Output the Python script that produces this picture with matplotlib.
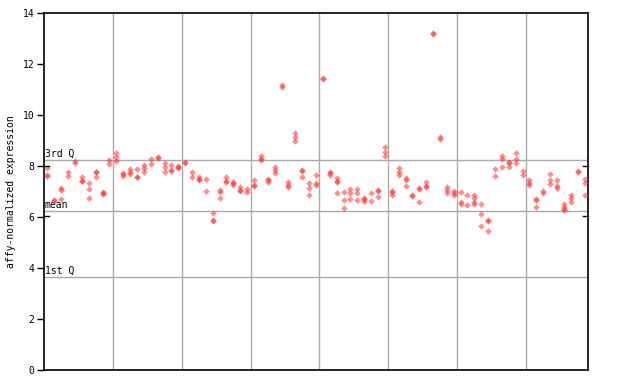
import matplotlib
matplotlib.use("Agg")
import matplotlib.pyplot as plt

# replicate values per sample column (79 columns, 8 groups of ~10)
replicates = [
    [7.93, 7.65, 7.62], [6.68, 6.63], [7.15, 7.06, 6.69], [7.78, 7.61],
    [8.20, 8.13], [7.58, 7.42, 7.40], [7.32, 7.08, 6.73], [7.78, 7.75, 7.55],
    [6.99, 6.95, 6.89], [8.24, 8.07], [8.50, 8.37, 8.20], [7.71, 7.68, 7.61],
    [7.88, 7.75, 7.69], [7.87, 7.58, 7.55], [8.04, 7.91, 7.78], [8.26, 8.08],
    [8.35, 8.31], [8.13, 7.97, 7.78], [8.05, 7.86, 7.82], [8.00, 7.95, 7.91],
    [8.17, 8.10], [7.78, 7.58], [7.58, 7.49, 7.46], [7.48, 7.03],
    [6.14, 5.88, 5.84], [7.06, 6.97, 6.73], [7.58, 7.41, 7.37], [7.37, 7.33, 7.25],
    [7.16, 7.05, 7.01], [7.08, 6.99], [7.45, 7.25, 7.21], [8.39, 8.28, 8.24],
    [7.50, 7.46, 7.39], [7.97, 7.86, 7.74], [11.18, 11.08], [7.39, 7.25, 7.16],
    [9.28, 9.15, 8.99], [7.86, 7.82, 7.55], [7.32, 7.12, 6.86], [7.65, 7.32, 7.25],
    [11.46, 11.42], [7.76, 7.72, 7.65], [7.51, 7.41, 7.37, 6.96], [6.97, 6.67, 6.34],
    [7.08, 6.95, 6.69], [7.08, 6.93, 6.67], [6.75, 6.71, 6.63], [6.93, 6.63],
    [7.05, 7.01, 6.80], [8.76, 8.56, 8.39], [7.01, 6.97, 6.86], [7.91, 7.78, 7.65],
    [7.51, 7.45, 7.22], [6.88, 6.84], [7.14, 7.10, 6.60], [7.39, 7.21, 7.17],
    [13.20, 13.16], [9.12, 9.04], [7.19, 7.06, 6.95], [7.02, 6.93, 6.86],
    [6.97, 6.60, 6.51], [6.86, 6.47], [6.86, 6.73, 6.60, 6.51], [6.51, 6.12, 5.65],
    [5.88, 5.84, 5.45], [7.87, 7.61], [8.39, 8.26, 7.95], [8.15, 8.11, 7.95],
    [8.50, 8.26, 8.10], [7.82, 7.65], [7.45, 7.35, 7.25], [6.69, 6.65, 6.41],
    [7.03, 6.93], [7.69, 7.45, 7.29], [7.45, 7.22, 7.12], [6.51, 6.41, 6.33, 6.29],
    [6.86, 6.73, 6.60], [7.80, 7.76], [7.48, 7.35, 6.86],
]
group_boundaries = [10, 20, 30, 40, 50, 60, 70]
stat_values = [8.22, 6.24, 3.63]
stat_labels = ["3rd Q", "mean", "1st Q"]
y_ticks = [0, 2, 4, 6, 8, 10, 12, 14]
y_label = "affy-normalized expression"

mono = "DejaVu Sans Mono"
fig = plt.figure(figsize=(6.4, 3.84), dpi=100)
ax = fig.add_axes([44/640, 14/384, 544/640, 357/384])
n = len(replicates)
ax.set_xlim(0, n)
ax.set_ylim(0, 14)

for b in group_boundaries:
    ax.axvline(b, color="#aaaaaa", lw=1, zorder=1)
for v, lab in zip(stat_values, stat_labels):
    ax.axhline(v, color="#aaaaaa", lw=1, zorder=1)
    ax.text(0.1, v + 0.05, lab, fontsize=7, family=mono, va="bottom", ha="left", zorder=2)

xs, ys = [], []
for i, vals in enumerate(replicates):
    for v in vals:
        xs.append(i + 0.5)
        ys.append(v)
ax.scatter(xs, ys, marker="D", s=11, color="#ff3333", alpha=0.55,
           linewidths=0, zorder=3)

# small inner marks on both sides
for yv in (8.0, 6.04):
    ax.plot([0, 0.7], [yv, yv], color="black", lw=1, zorder=4, clip_on=False)
    ax.plot([n - 0.7, n], [yv, yv], color="black", lw=1, zorder=4, clip_on=False)

ax.set_xticks([])
ax.set_yticks(y_ticks)
ax.set_yticklabels([str(t) for t in y_ticks], family=mono, fontsize=7)
ax.tick_params(axis="y", length=5, width=1, direction="out", pad=2)
ax.set_ylabel(y_label, family=mono, fontsize=7, labelpad=5)
for s in ax.spines.values():
    s.set_linewidth(1.2)

fig.savefig("out.png", dpi=100)
